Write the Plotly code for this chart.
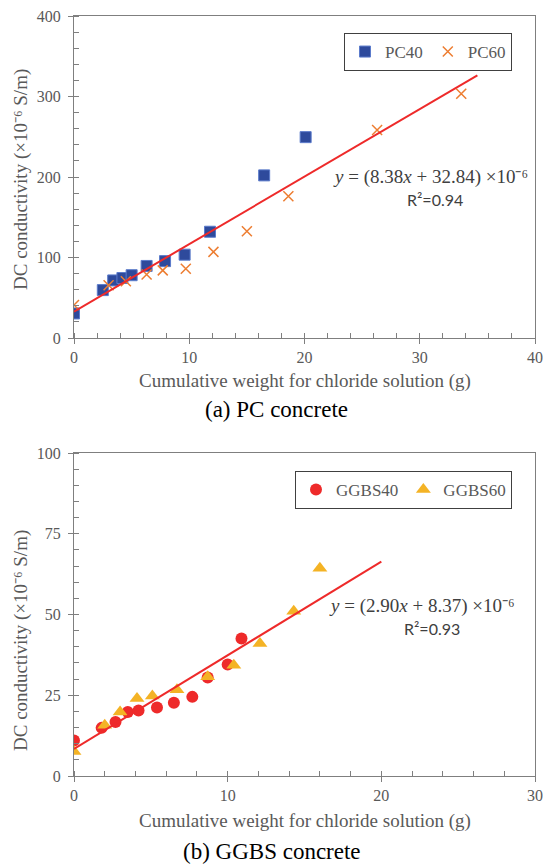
import plotly.graph_objects as go

# ---------------- data ----------------
pc40_x = [0.0, 2.5, 3.4, 4.2, 5.0, 6.3, 7.9, 9.6, 11.8, 16.5, 20.1]
pc40_y = [30.5, 59.5, 71.5, 74.5, 78.0, 89.5, 95.5, 103.5, 132.0, 202.0, 249.5]
pc60_x = [0.0, 3.0, 4.5, 6.3, 7.7, 9.7, 12.1, 15.0, 18.6, 26.3, 33.6]
pc60_y = [41.0, 65.5, 70.5, 79.0, 84.0, 86.0, 107.0, 132.5, 176.0, 258.5, 303.5]
pc_fit = dict(slope=8.38, intercept=32.84, r2=0.94, x_end=35.0)

gg40_x = [0.0, 1.8, 2.7, 3.5, 4.2, 5.4, 6.5, 7.7, 8.7, 10.0, 10.9]
gg40_y = [11.0, 14.9, 16.7, 19.8, 20.3, 21.2, 22.7, 24.5, 30.5, 34.5, 42.6]
gg60_x = [0.0, 2.0, 3.0, 4.1, 5.1, 6.7, 8.7, 10.4, 12.1, 14.3, 16.0]
gg60_y = [7.6, 15.7, 19.8, 24.0, 24.8, 26.7, 30.7, 34.3, 41.0, 51.0, 64.3]
gg_fit = dict(slope=2.90, intercept=8.37, r2=0.93, x_end=20.0)

x_title = "Cumulative weight for chloride solution (g)"
y_title = "DC conductivity (×10⁻⁶ S/m)"
captions = ["(a) PC concrete", "(b) GGBS concrete"]

W, H = 543, 864
def fy(px):
    return 1 - px / H
def fx(px):
    return px / W

SERIF = "Times New Roman, Liberation Serif, serif"
SANS = "Lato, sans-serif"
GRAY = "#595959"
AXC = "#7f7f7f"

fig = go.Figure()

# ---------- top chart ----------
fig.add_trace(go.Scatter(x=pc40_x, y=pc40_y, mode="markers", name="PC40",
                         marker=dict(symbol="square", size=11, color="#2E4A9C",
                                     line=dict(color="#5B7BCB", width=1)),
                         xaxis="x", yaxis="y", legend="legend"))
fig.add_trace(go.Scatter(x=pc60_x, y=pc60_y, mode="markers", name="PC60",
                         marker=dict(symbol="x-thin", size=10, color="#ED7D31",
                                     line=dict(color="#ED7D31", width=1.5)),
                         xaxis="x", yaxis="y", legend="legend"))
fx_pc = [0.0, pc_fit["x_end"]]
fig.add_trace(go.Scatter(x=fx_pc, y=[pc_fit["slope"] * v + pc_fit["intercept"] for v in fx_pc],
                         mode="lines", line=dict(color="#EE2A2A", width=2),
                         showlegend=False, xaxis="x", yaxis="y"))

# ---------- bottom chart ----------
fig.add_trace(go.Scatter(x=gg40_x, y=gg40_y, mode="markers", name="GGBS40",
                         marker=dict(symbol="circle", size=12, color="#EE2A2A"),
                         xaxis="x2", yaxis="y2", legend="legend2"))
fig.add_trace(go.Scatter(x=gg60_x, y=gg60_y, mode="markers", name="GGBS60",
                         marker=dict(symbol="triangle-up", size=13, color="#F4B325"),
                         xaxis="x2", yaxis="y2", legend="legend2"))
fx_gg = [0.0, gg_fit["x_end"]]
fig.add_trace(go.Scatter(x=fx_gg, y=[gg_fit["slope"] * v + gg_fit["intercept"] for v in fx_gg],
                         mode="lines", line=dict(color="#EE2A2A", width=2),
                         showlegend=False, xaxis="x2", yaxis="y2"))

xdom = [fx(74), fx(535)]
top_dom = [fy(338), fy(16)]
bot_dom = [fy(776), fy(453)]

def axis_common(dtick, minor_dtick):
    return dict(showline=True, mirror=True, linecolor=AXC, linewidth=1,
                showgrid=False, zeroline=False, automargin=False,
                ticks="outside", ticklen=5, tickcolor=AXC, tickwidth=1,
                dtick=dtick, tick0=0,
                minor=dict(ticks="inside", ticklen=5, tickcolor=AXC, dtick=minor_dtick, showgrid=False),
                tickfont=dict(family=SERIF, size=16, color=GRAY), fixedrange=True)

fig.update_layout(
    width=W, height=H, margin=dict(l=0, r=0, t=0, b=0, autoexpand=False),
    paper_bgcolor="white", plot_bgcolor="white",
    xaxis=dict(domain=xdom, range=[0, 40], anchor="y", **axis_common(10, 2)),
    yaxis=dict(domain=top_dom, range=[0, 400], anchor="x", ticklabelstandoff=4, **axis_common(100, 20)),
    xaxis2=dict(domain=xdom, range=[0, 30], anchor="y2", **axis_common(10, 2)),
    yaxis2=dict(domain=bot_dom, range=[0, 100], anchor="x2", ticklabelstandoff=4, **axis_common(25, 5)),
    legend=dict(orientation="h", x=fx(512), xanchor="right", y=fy(33), yanchor="top",
                bordercolor="#404040", borderwidth=1, bgcolor="white",
                font=dict(family=SERIF, size=17, color=GRAY), itemwidth=30, tracegroupgap=0),
    legend2=dict(orientation="h", x=fx(512), xanchor="right", y=fy(471), yanchor="top",
                 bordercolor="#404040", borderwidth=1, bgcolor="white",
                 font=dict(family=SERIF, size=17, color=GRAY), itemwidth=30),
    showlegend=True,
)

def eq_text(f):
    return "<i>y</i> = (%.2f<i>x</i> + %.2f) ×10⁻⁶" % (f["slope"], f["intercept"])

ann = []
for cx, cy, txt, fam, size, col in [
    (430, 177, eq_text(pc_fit), SERIF, 19, "#404040"),
    (435, 199, "R²=%.2f" % pc_fit["r2"], SANS, 16, "#404040"),
    (422, 606, eq_text(gg_fit), SERIF, 19, "#404040"),
    (432, 628, "R²=%.2f" % gg_fit["r2"], SANS, 16, "#404040"),
    (305, 381, x_title, SERIF, 19, GRAY),
    (305, 821, x_title, SERIF, 19, GRAY),
    (276, 410, captions[0], SERIF, 23, "black"),
    (272, 851, captions[1], SERIF, 23, "black"),
]:
    ann.append(dict(x=fx(cx), y=fy(cy), xref="paper", yref="paper", text=txt,
                    showarrow=False, xanchor="center", yanchor="middle",
                    font=dict(family=fam, size=size, color=col)))
for cy in [180, 641]:
    ann.append(dict(x=fx(21), y=fy(cy), xref="paper", yref="paper", text=y_title,
                    showarrow=False, textangle=-90, xanchor="center", yanchor="middle",
                    font=dict(family=SERIF, size=19, color=GRAY)))
fig.update_layout(annotations=ann)

fig.write_html("out.html")
